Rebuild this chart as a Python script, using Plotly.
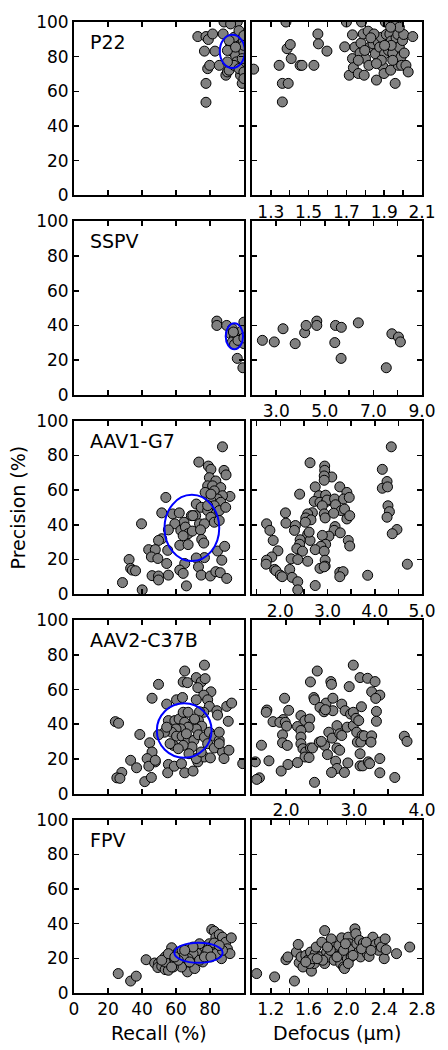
import plotly.graph_objects as go

# ---------------- data ----------------
panel_names = ["P22", "SSPV", "AAV1-G7", "AAV2-C37B", "FPV"]

# P22
p22_recall = [72.8, 77.6, 79.0, 81.5, 76.7, 77.6, 77.6, 78.6, 79.8, 82.9, 85.4, 87.7, 89.3, 90.2, 91.2,
              92.1, 93.1, 93.1, 94.1, 95.0, 95.6, 96.0, 97.0, 97.9, 98.9, 99.5, 99.9, 99.9, 88.2, 92.1,
              94.1, 97.0, 90.2, 99.9, 99.9, 91.2, 95.0, 99.9, 99.9, 98.9, 90.2]
p22_recall_prec = [91.6, 91.6, 89.9, 93.1, 83.2, 64.6, 53.7, 73.1, 75.0, 83.2, 75.0, 93.1, 69.3, 71.2, 72.2,
                   86.5, 83.0, 88.4, 91.2, 80.8, 77.0, 100.0, 95.0, 69.3, 64.6, 88.4, 82.7, 77.0, 100.0, 98.9,
                   75.0, 73.1, 83.6, 92.2, 86.5, 89.3, 85.5, 71.2, 67.4, 78.9, 77.0]
p22_defocus = [1.209, 1.344, 1.361, 1.392, 1.361, 1.386, 1.403, 1.408, 1.38, 1.455, 1.465, 1.528, 1.549, 1.552,
               1.597, 1.691, 1.70, 1.715, 1.732, 1.745, 1.732, 1.737, 1.763, 1.772, 1.777, 1.78, 1.789, 1.794,
               1.801, 1.815, 1.819, 1.824, 1.841, 1.853, 1.859, 1.868, 1.876, 1.885, 1.894, 1.899, 1.902, 1.906,
               1.911, 1.916, 1.923, 1.93, 1.934, 1.937, 1.945, 1.95, 1.958, 1.963, 1.972, 1.975, 1.98, 1.989,
               1.992, 1.997, 2.003, 2.006, 2.015, 2.027, 2.051, 1.937, 1.846, 1.763, 1.797, 1.885, 1.945, 1.859,
               1.829, 1.902, 1.98, 1.934]
p22_defocus_prec = [72.8, 75.0, 64.6, 64.6, 53.9, 84.6, 87.0, 78.9, 100.0, 75.0, 75.0, 75.0, 93.1, 87.4,
                    83.2, 85.7, 100.0, 69.3, 92.6, 85.5, 78.9, 73.7, 70.3, 82.1, 87.8, 100.0, 93.1, 69.3,
                    78.9, 94.7, 75.0, 85.5, 87.4, 81.7, 66.5, 88.4, 85.5, 91.2, 74.1, 70.3, 81.7, 100.0,
                    92.8, 85.5, 83.6, 93.1, 72.2, 89.0, 82.1, 100.0, 64.6, 90.9, 92.8, 75.0, 85.5, 79.8,
                    75.0, 89.3, 92.8, 82.1, 75.0, 71.2, 91.6, 86.5, 93.1, 77.9, 83.6, 77.9, 77.9, 76.0,
                    90.9, 86.5, 97.0, 97.0]

# SSPV
sspv_recall = [84.0, 84.0, 89.8, 93.1, 92.1, 94.4, 93.1, 96.4, 96.0, 99.3, 99.9, 99.9, 98.9, 94.4, 96.4, 93.7, 99.9]
sspv_recall_prec = [42.5, 40.0, 40.0, 38.1, 35.2, 33.3, 30.5, 33.3, 21.0, 15.6, 41.9, 29.5, 37.1, 29.0, 31.4, 36.2, 32.8]
sspv_defocus = [2.43, 2.92, 3.28, 3.78, 4.17, 4.23, 4.67, 4.67, 5.44, 5.41, 5.68, 5.67, 6.38, 7.53, 7.76, 8.03, 8.11]
sspv_defocus_prec = [31.4, 30.5, 38.1, 29.5, 35.8, 40.0, 42.5, 40.0, 40.0, 30.1, 38.9, 21.0, 41.5, 15.6, 35.2, 33.3, 30.5]

# AAV1-G7
aav1_recall = [87.3, 73.4, 79.0, 80.5, 88.2, 89.4, 79.6, 83.4, 78.6, 81.5, 86.3, 82.5, 91.7, 77.1, 87.3, 84.4,
               80.5, 86.3, 54.0, 82.5, 71.9, 74.8, 78.6, 83.4, 85.4, 80.5, 82.5, 51.6, 58.0, 61.9, 64.7, 69.0,
               71.5, 73.8, 76.7, 59.3, 55.5, 62.8, 65.5, 67.1, 64.2, 69.6, 74.4, 75.1, 76.3, 39.7, 51.6, 49.7,
               55.1, 62.2, 67.1, 43.9, 47.8, 45.5, 49.3, 32.4, 54.5, 33.3, 34.3, 36.2, 84.4, 88.6, 86.9, 76.7,
               71.9, 73.2, 65.1, 62.2, 64.2, 45.9, 49.7, 49.7, 55.5, 74.8, 80.2, 83.4, 86.0, 89.8, 66.1, 28.5,
               40.1, 69.9, 80.5, 89.2, 85.4, 78.6]
aav1_recall_prec = [85.0, 76.2, 73.9, 72.0, 71.4, 68.8, 67.2, 65.3, 62.5, 62.5, 61.5, 59.6, 56.4, 58.7, 56.8,
                    54.9, 53.9, 53.0, 55.8, 51.0, 52.0, 50.1, 48.2, 46.3, 48.2, 44.4, 41.5, 46.9, 46.3, 46.9,
                    41.5, 45.3, 45.3, 40.6, 40.6, 40.6, 37.1, 36.8, 38.7, 34.9, 33.7, 36.4, 37.1, 31.6, 29.5,
                    40.6, 32.0, 31.0, 25.3, 28.2, 28.6, 25.7, 25.7, 21.5, 20.6, 20.0, 17.7, 14.9, 13.9, 13.5,
                    24.9, 27.6, 19.6, 21.1, 20.9, 15.8, 17.7, 13.9, 12.0, 10.7, 10.5, 8.2, 11.0, 11.0, 10.5,
                    13.0, 12.4, 9.1, 4.8, 6.7, 2.5, 45.3, 57.7, 50.1, 42.5, 51.1]
aav1_defocus = [4.35, 2.63, 2.94, 2.94, 3.09, 2.93, 2.93, 4.16, 4.26, 4.16, 4.27, 2.74, 3.26, 2.41, 3.41, 2.82,
                2.96, 2.72, 2.84, 2.98, 2.99, 3.15, 3.17, 3.34, 3.46, 3.29, 3.36, 2.89, 2.93, 2.95, 2.68, 2.58,
                2.54, 2.65, 2.53, 3.41, 3.47, 2.11, 2.12, 1.71, 1.78, 2.32, 2.30, 4.28, 4.31, 4.26, 4.47, 4.37,
                3.16, 3.14, 3.27, 3.03, 2.89, 2.58, 2.63, 2.42, 2.41, 3.44, 3.47, 2.96, 2.86, 2.74, 2.93, 2.35,
                2.47, 2.58, 2.95, 2.95, 2.84, 2.93, 2.23, 2.37, 2.20, 2.25, 2.37, 2.37, 2.74, 1.95, 1.85, 1.82,
                1.71, 1.70, 1.88, 1.91, 2.00, 2.04, 3.26, 3.33, 3.26, 3.85, 4.69, 2.61, 3.13]
aav1_defocus_prec = [85.0, 75.8, 73.9, 71.4, 67.6, 68.2, 65.7, 72.0, 65.0, 61.1, 61.9, 61.9, 61.9, 57.7, 58.7,
                     56.8, 57.1, 53.5, 53.0, 53.5, 54.3, 54.9, 51.6, 54.9, 55.8, 48.2, 49.1, 51.0, 46.3, 44.0,
                     47.0, 46.3, 44.0, 42.9, 41.5, 43.4, 45.3, 46.9, 41.0, 40.6, 36.8, 39.6, 36.8, 51.0, 47.6,
                     44.4, 37.3, 34.9, 39.0, 36.8, 35.4, 33.5, 33.9, 34.5, 31.0, 31.4, 28.8, 31.0, 27.8, 28.8,
                     27.6, 25.7, 24.8, 26.3, 24.8, 19.0, 19.6, 16.2, 14.9, 15.8, 20.4, 20.0, 14.3, 9.7, 7.2,
                     2.5, 5.0, 25.0, 31.0, 21.5, 19.6, 17.3, 14.3, 13.5, 11.0, 10.1, 12.6, 13.0, 10.1, 10.9,
                     17.3, 35.8, 46.7]

# AAV2-C37B
aav2_recall = [76.7, 65.1, 71.9, 64.2, 66.7, 74.8, 77.1, 72.8, 49.7, 80.5, 76.3, 45.9, 54.5, 60.3, 63.8, 71.9,
               78.6, 79.6, 84.0, 84.4, 89.8, 92.7, 90.7, 76.3, 73.8, 55.5, 59.3, 61.8, 64.2, 67.1, 65.1, 70.0,
               73.2, 75.1, 71.9, 67.1, 62.8, 60.0, 57.4, 60.3, 63.6, 67.1, 70.5, 73.2, 76.7, 79.6, 82.5, 85.4,
               78.6, 69.4, 64.2, 58.4, 56.5, 53.2, 54.5, 49.7, 24.3, 26.2, 38.7, 44.5, 45.9, 47.8, 43.0, 44.0,
               47.8, 33.3, 36.8, 28.1, 25.2, 27.0, 41.6, 45.5, 55.5, 55.1, 59.0, 63.2, 65.1, 70.0, 72.8, 76.7,
               80.2, 82.5, 87.3, 85.4, 91.1, 99.2, 85.4, 88.2, 71.9, 67.6, 74.8, 61.3, 66.1, 70.9]
aav2_recall_prec = [74.1, 70.7, 66.9, 64.4, 64.0, 64.4, 66.3, 61.1, 63.0, 58.7, 56.8, 55.0, 51.6, 54.1, 55.4,
                    54.1, 54.1, 50.3, 47.8, 45.3, 50.3, 52.2, 41.7, 46.9, 47.2, 42.1, 42.1, 43.0, 46.9, 46.9,
                    41.1, 40.2, 42.1, 38.9, 37.3, 38.3, 37.3, 37.3, 35.4, 33.1, 33.1, 30.7, 30.7, 33.9, 32.6,
                    35.4, 33.1, 30.7, 28.8, 26.9, 27.8, 27.8, 28.8, 35.4, 38.3, 33.9, 41.5, 40.6, 34.1, 29.3,
                    24.0, 18.3, 20.2, 15.8, 19.2, 19.2, 14.9, 12.2, 9.1, 8.8, 6.9, 9.3, 16.8, 12.0, 15.8,
                    17.3, 12.0, 13.0, 18.3, 21.1, 20.6, 26.3, 24.0, 28.8, 25.0, 17.3, 35.4, 20.2, 20.2, 23.0,
                    24.0, 25.9, 34.5, 43.0]
aav2_defocus = [2.99, 2.46, 3.09, 3.20, 3.31, 2.36, 2.66, 2.67, 2.93, 3.26, 3.38, 3.32, 1.98, 2.41, 2.42, 2.59,
                2.69, 2.50, 2.56, 2.69, 2.82, 2.87, 2.95, 2.99, 3.11, 3.33, 3.33, 2.04, 1.72, 1.71, 1.81, 1.96,
                1.91, 1.99, 2.01, 1.95, 1.95, 2.02, 2.17, 2.22, 2.28, 2.35, 2.34, 2.22, 2.22, 2.22, 2.25, 2.29,
                2.28, 2.36, 2.39, 2.34, 2.49, 2.57, 2.61, 2.63, 2.68, 2.75, 2.79, 2.82, 2.75, 2.79, 2.73, 2.75,
                2.67, 2.86, 2.91, 2.90, 2.99, 3.03, 3.07, 3.04, 3.12, 3.05, 3.10, 3.15, 3.26, 3.25, 3.09, 3.09,
                3.13, 3.21, 3.23, 3.38, 3.38, 3.60, 3.74, 3.78, 1.64, 1.75, 1.55, 1.61, 1.57, 1.93, 2.03, 2.17,
                2.42, 2.52, 2.58]
aav2_defocus_prec = [74.1, 70.7, 66.9, 66.5, 64.6, 64.4, 64.6, 63.0, 61.7, 58.7, 56.8, 54.9, 55.0, 55.4, 54.1,
                     52.2, 55.0, 49.7, 47.2, 47.8, 51.6, 47.8, 45.9, 46.9, 50.1, 47.4, 41.7, 48.0, 48.2, 46.9,
                     41.5, 42.7, 41.1, 41.1, 38.9, 33.9, 29.3, 27.8, 38.7, 45.0, 42.1, 43.0, 38.3, 36.4, 32.6,
                     28.8, 25.9, 24.0, 21.1, 26.3, 26.3, 20.8, 29.7, 27.8, 22.5, 35.4, 32.0, 39.2, 34.5, 33.5,
                     26.3, 25.0, 18.7, 14.5, 12.2, 12.2, 17.7, 38.3, 39.2, 43.4, 42.1, 35.4, 33.5, 29.7, 29.7,
                     33.3, 33.3, 29.7, 23.0, 16.0, 16.0, 18.3, 17.3, 20.2, 12.0, 9.3, 33.1, 30.1, 27.9, 18.9,
                     18.3, 9.1, 8.2, 13.0, 16.8, 17.9, 6.5, 30.1, 48.4]

# FPV
fpv_recall = [26.0, 33.3, 36.6, 42.4, 47.4, 49.7, 49.3, 51.6, 53.6, 53.6, 55.1, 55.5, 57.4, 56.5, 59.3, 60.3,
              62.2, 61.3, 63.6, 65.1, 66.7, 66.1, 68.0, 69.0, 71.0, 71.9, 72.8, 74.8, 75.7, 76.7, 77.6, 78.6,
              79.6, 80.5, 81.0, 82.5, 83.4, 82.1, 84.4, 85.4, 86.3, 86.7, 87.3, 88.2, 89.2, 90.2, 91.7, 92.5,
              85.4, 83.4, 73.8, 70.0, 67.1, 63.2, 58.4, 53.6, 51.6, 55.5, 64.2, 73.8, 78.6, 68.0, 61.3, 76.7,
              80.5, 87.3, 82.5, 85.4, 70.0, 65.1, 59.3, 57.4]
fpv_recall_prec = [11.2, 6.9, 9.7, 19.2, 17.3, 17.0, 14.7, 15.4, 20.8, 13.5, 17.3, 13.1, 26.1, 19.8, 17.0, 20.8,
                   19.8, 23.6, 24.6, 17.9, 12.2, 22.7, 24.6, 20.8, 14.1, 25.5, 20.8, 23.6, 17.9, 26.5, 22.7,
                   20.8, 28.4, 26.5, 36.6, 35.6, 32.2, 23.6, 29.3, 33.7, 28.4, 19.8, 32.2, 27.4, 29.3, 25.5,
                   22.7, 31.8, 24.6, 22.7, 28.4, 22.7, 19.8, 15.0, 15.0, 17.9, 18.9, 22.7, 20.8, 18.9, 24.6,
                   17.9, 18.9, 20.8, 20.8, 24.6, 28.8, 27.4, 26.5, 24.6, 20.8, 15.0]
fpv_defocus = [1.05, 1.24, 1.45, 1.36, 1.38, 1.47, 1.49, 1.50, 1.54, 1.52, 1.57, 1.59, 1.62, 1.63, 1.66, 1.67,
               1.68, 1.72, 1.74, 1.77, 1.77, 1.79, 1.81, 1.84, 1.87, 1.88, 1.87, 1.92, 1.94, 1.95, 1.97, 1.98,
               2.01, 2.02, 2.03, 2.04, 2.05, 2.09, 2.10, 2.11, 2.13, 2.14, 2.15, 2.18, 2.20, 2.22, 2.24, 2.28,
               2.28, 2.31, 2.34, 2.35, 2.37, 2.40, 2.41, 2.42, 2.53, 2.67, 1.61, 1.64, 1.57, 1.75, 1.83, 1.90,
               1.97, 2.02, 2.07, 2.16, 2.21, 2.26, 1.69, 1.80, 1.99]
fpv_defocus_prec = [11.2, 9.3, 6.9, 19.2, 20.8, 23.6, 28.0, 17.5, 15.0, 20.8, 21.7, 18.9, 23.6, 12.6, 17.0,
                    22.7, 26.5, 20.8, 29.3, 36.0, 17.0, 23.6, 20.8, 31.2, 23.6, 26.5, 18.9, 27.4, 17.0, 31.8,
                    15.0, 14.1, 19.8, 32.2, 28.4, 25.0, 20.8, 37.0, 34.2, 28.4, 23.6, 30.3, 20.8, 28.8, 26.5,
                    22.7, 21.1, 32.2, 26.5, 28.0, 24.6, 29.3, 26.5, 19.8, 31.2, 25.0, 22.7, 26.5, 17.0, 19.8,
                    17.9, 18.9, 24.6, 20.8, 24.6, 17.0, 21.7, 25.5, 29.3, 24.6, 19.8, 26.5, 28.4]

recall_x = [p22_recall, sspv_recall, aav1_recall, aav2_recall, fpv_recall]
recall_y = [p22_recall_prec, sspv_recall_prec, aav1_recall_prec, aav2_recall_prec, fpv_recall_prec]
defocus_x = [p22_defocus, sspv_defocus, aav1_defocus, aav2_defocus, fpv_defocus]
defocus_y = [p22_defocus_prec, sspv_defocus_prec, aav1_defocus_prec, aav2_defocus_prec, fpv_defocus_prec]

# mean / spread ellipses (recall, precision)
ellipse_cx = [93.1, 94.3, 69.3, 64.8, 73.2]
ellipse_cy = [83.1, 33.8, 38.2, 36.4, 23.2]
ellipse_rx = [7.4, 5.1, 16.1, 16.1, 14.2]
ellipse_ry = [9.6, 7.5, 19.1, 15.7, 5.8]

# defocus axes per row
defocus_range = [[1.2, 2.1], [2.0, 9.0], [1.4, 5.0], [1.5, 4.0], [1.0, 2.8]]
defocus_tickvals = [
    [1.2, 1.3, 1.4, 1.5, 1.6, 1.7, 1.8, 1.9, 2.0, 2.1],
    [2, 3, 4, 5, 6, 7, 8, 9],
    [1.5, 2.0, 2.5, 3.0, 3.5, 4.0, 4.5, 5.0],
    [1.5, 2.0, 2.5, 3.0, 3.5, 4.0],
    [1.0, 1.2, 1.4, 1.6, 1.8, 2.0, 2.2, 2.4, 2.6, 2.8],
]
defocus_ticktext = [
    ["", "1.3", "", "1.5", "", "1.7", "", "1.9", "", "2.1"],
    ["", "3.0", "", "5.0", "", "7.0", "", "9.0"],
    ["", "2.0", "", "3.0", "", "4.0", "", "5.0"],
    ["", "2.0", "", "3.0", "", "4.0"],
    ["", "1.2", "", "1.6", "", "2.0", "", "2.4", "", "2.8"],
]
pct_tickvals = [0, 20, 40, 60, 80, 100]
pct_ticktext = ["0", "20", "40", "60", "80", "100"]
recall_ticktext = ["0", "20", "40", "60", "80", ""]

# ---------------- layout geometry ----------------
W, H = 448, 1050
ML, MT = 74, 13
MR = W - 428
MB = H - 993
PW = W - ML - MR
PH = H - MT - MB
panel_w = 173
panel_h = 175
row_pitch = 201.25

FONT = "DejaVu Sans"
fig = go.Figure()

marker = dict(size=10, color="#808080", line=dict(color="black", width=1))

axis_common = dict(
    showline=True, linecolor="black", linewidth=2, mirror="ticks",
    ticks="inside", ticklen=5, tickwidth=1.5, tickcolor="black",
    showgrid=False, zeroline=False, fixedrange=True,
    tickfont=dict(family=FONT, size=17, color="black"),
)

layout = {}
for i in range(5):
    top_px = i * row_pitch
    y1 = 1 - top_px / PH
    y0 = 1 - (top_px + panel_h) / PH
    li = 2 * i + 1
    ri = 2 * i + 2
    lsuf = "" if li == 1 else str(li)
    rsuf = str(ri)

    fig.add_trace(go.Scatter(x=recall_x[i], y=recall_y[i], mode="markers", marker=marker,
                             xaxis="x" + lsuf, yaxis="y" + lsuf, showlegend=False))
    fig.add_trace(go.Scatter(x=defocus_x[i], y=defocus_y[i], mode="markers", marker=marker,
                             xaxis="x" + rsuf, yaxis="y" + rsuf, showlegend=False))

    layout["xaxis" + lsuf] = dict(axis_common, domain=[0, panel_w / PW], range=[0, 100],
                                  tickvals=pct_tickvals, ticktext=recall_ticktext,
                                  showticklabels=(i == 4), anchor="y" + lsuf)
    layout["yaxis" + lsuf] = dict(axis_common, domain=[y0, y1], range=[0, 100],
                                  tickvals=pct_tickvals, ticktext=pct_ticktext,
                                  anchor="x" + lsuf)
    layout["xaxis" + rsuf] = dict(axis_common, domain=[1 - panel_w / PW, 1], range=defocus_range[i],
                                  tickvals=defocus_tickvals[i], ticktext=defocus_ticktext[i],
                                  anchor="y" + rsuf)
    layout["yaxis" + rsuf] = dict(axis_common, domain=[y0, y1], range=[0, 100],
                                  tickvals=pct_tickvals, showticklabels=False,
                                  anchor="x" + rsuf)

    fig.add_shape(type="circle", xref="x" + lsuf, yref="y" + lsuf,
                  x0=ellipse_cx[i] - ellipse_rx[i], x1=ellipse_cx[i] + ellipse_rx[i],
                  y0=ellipse_cy[i] - ellipse_ry[i], y1=ellipse_cy[i] + ellipse_ry[i],
                  line=dict(color="#0000ff", width=2))
    fig.add_annotation(text=panel_names[i], xref="x" + lsuf + " domain", yref="y" + lsuf + " domain",
                       x=0.08, y=0.885, xanchor="left", yanchor="middle", showarrow=False,
                       font=dict(family=FONT, size=19, color="black"))

fig.add_annotation(text="Recall (%)", xref="paper", yref="paper",
                   x=panel_w / PW / 2, y=-40 / PH, xanchor="center", yanchor="middle",
                   showarrow=False, font=dict(family=FONT, size=19, color="black"))
fig.add_annotation(text="Defocus (µm)", xref="paper", yref="paper",
                   x=1 - panel_w / PW / 2, y=-40 / PH, xanchor="center", yanchor="middle",
                   showarrow=False, font=dict(family=FONT, size=19, color="black"))
fig.add_annotation(text="Precision (%)", xref="paper", yref="paper",
                   x=(17 - ML) / PW, y=1 - (2 * row_pitch + panel_h / 2) / PH,
                   xanchor="center", yanchor="middle", textangle=-90,
                   showarrow=False, font=dict(family=FONT, size=19, color="black"))

fig.update_layout(
    width=W, height=H,
    margin=dict(l=ML, r=MR, t=MT, b=MB, pad=0),
    paper_bgcolor="white", plot_bgcolor="white",
    font=dict(family=FONT, size=17, color="black"),
    showlegend=False,
    hovermode=False,
    **layout,
)

# remove the browser's default 8px body margin so the figure fills the window exactly
fig.write_html("out.html", config={"displayModeBar": False, "staticPlot": True},
               post_script="document.body.style.margin='0';")
